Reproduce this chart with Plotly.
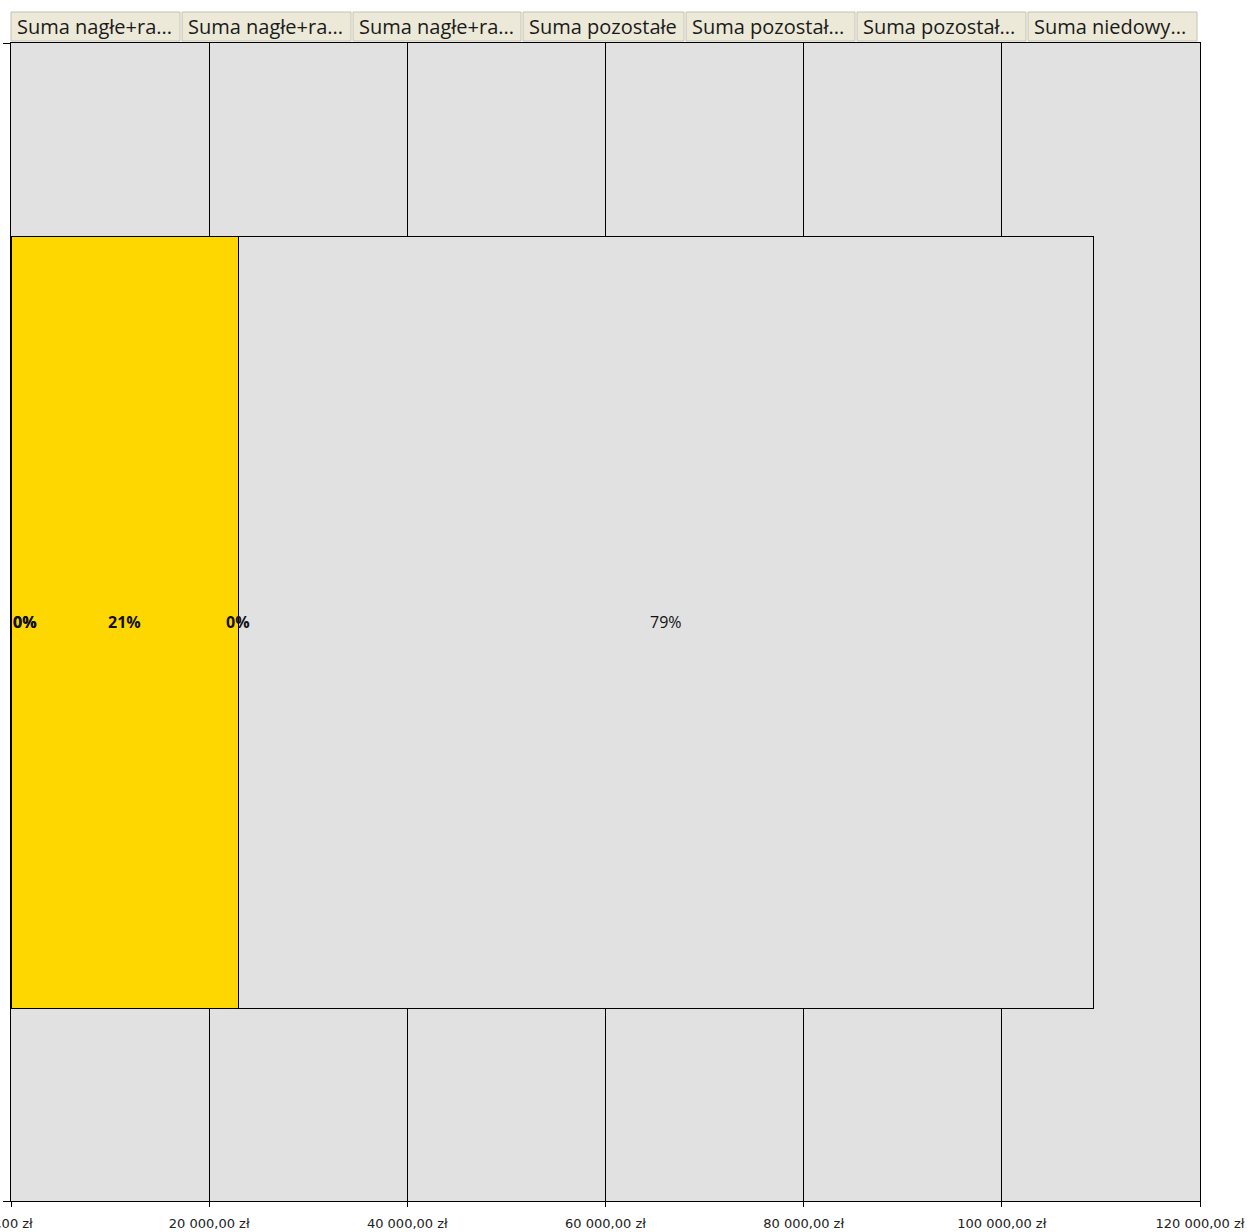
import plotly.graph_objects as go

# Pivot-chart series (button captions as shown in the field list) and their sums in zł
series_names = [
    "Suma nagłe+ra...",
    "Suma nagłe+ra...",
    "Suma nagłe+ra...",
    "Suma pozostałe",
    "Suma pozostał...",
    "Suma pozostał...",
    "Suma niedowy...",
]
series_values = [0, 0, 22910, 0, 86390, None, None]
series_colors = ["#4F81BD", "#C0504D", "#FFD700", "#8064A2", "#E1E1E1", "#4BACC6", "#F79646"]
label_bold = [True, True, True, True, False, False, False]

x_ticks = [0, 20000, 40000, 60000, 80000, 100000, 120000]


def fmt_zl(v):
    whole = f"{int(v):,}".replace(",", " ")
    return f"{whole},00 zł"


x_ticktext = [fmt_zl(v) for v in x_ticks]

fig = go.Figure()
for name, val, col in zip(series_names, series_values, series_colors):
    fig.add_trace(go.Bar(
        y=[0], x=[val], name=name, orientation="h",
        marker=dict(color=col, line=dict(color="#000000", width=1)),
        showlegend=False, hoverinfo="x+name",
    ))

# Percentage labels in the middle of each stacked segment
total = sum(v for v in series_values if v is not None)
cum = 0
for val, bold in zip(series_values, label_bold):
    if val is None:
        continue
    mid = cum + val / 2
    pct = f"{round(100 * val / total)}%"
    fig.add_annotation(
        x=mid, y=0, xref="x", yref="y", text=f"<b>{pct}</b>" if bold else pct,
        showarrow=False, xanchor="left" if mid == 0 else "center",
        font=dict(family="Open Sans, sans-serif", size=16, color="#111111"),
    )
    cum += val

# Field buttons above the plot area (pixel geometry converted to paper coordinates)
PLOT_L, PLOT_R, PLOT_T, PLOT_B = 11, 1200, 43, 1201


def px_x(p):
    return (p - PLOT_L) / (PLOT_R - PLOT_L)


def px_y(p):
    return (PLOT_B - p) / (PLOT_B - PLOT_T)


button_edges = [(11, 180), (182, 351), (353, 521), (523, 684), (686, 855), (857, 1026), (1028, 1197)]
for (x0, x1), name in zip(button_edges, series_names):
    fig.add_shape(
        type="rect", xref="paper", yref="paper",
        x0=px_x(x0), x1=px_x(x1), y0=px_y(41), y1=px_y(12),
        fillcolor="#ECE9D8", line=dict(color="#C4C2B2", width=1), layer="above",
    )
    fig.add_annotation(
        x=px_x(x0 + 4), y=px_y(26.5), xref="paper", yref="paper",
        text=name, showarrow=False, xanchor="left", yanchor="middle",
        font=dict(family="Open Sans, sans-serif", size=20, color="#1A1A1A"),
    )

fig.update_layout(
    width=1250, height=1232,
    margin=dict(l=PLOT_L, r=1250 - PLOT_R, t=PLOT_T, b=1232 - PLOT_B, pad=0, autoexpand=False),
    paper_bgcolor="#FFFFFF", plot_bgcolor="#E1E1E1",
    barmode="stack", bargap=1 / 3,
    xaxis=dict(
        range=[0, 120000], tickvals=x_ticks, ticktext=x_ticktext,
        showgrid=True, gridcolor="#000000", gridwidth=1,
        showline=True, linecolor="#000000", linewidth=1, mirror=True,
        ticks="outside", ticklen=5, tickcolor="#000000", ticklabelstandoff=5,
        ticklabeloverflow="allow", automargin=False,
        tickfont=dict(family="DejaVu Sans, sans-serif", size=13, color="#222222"),
        zeroline=False,
    ),
    yaxis=dict(
        range=[-0.5, 0.5], tickvals=[-0.5, 0.5], showticklabels=False,
        showgrid=False, zeroline=False, automargin=False,
        showline=True, linecolor="#000000", linewidth=1, mirror=True,
        ticks="outside", ticklen=7, tickcolor="#000000",
    ),
)

fig.write_html("out.html")
